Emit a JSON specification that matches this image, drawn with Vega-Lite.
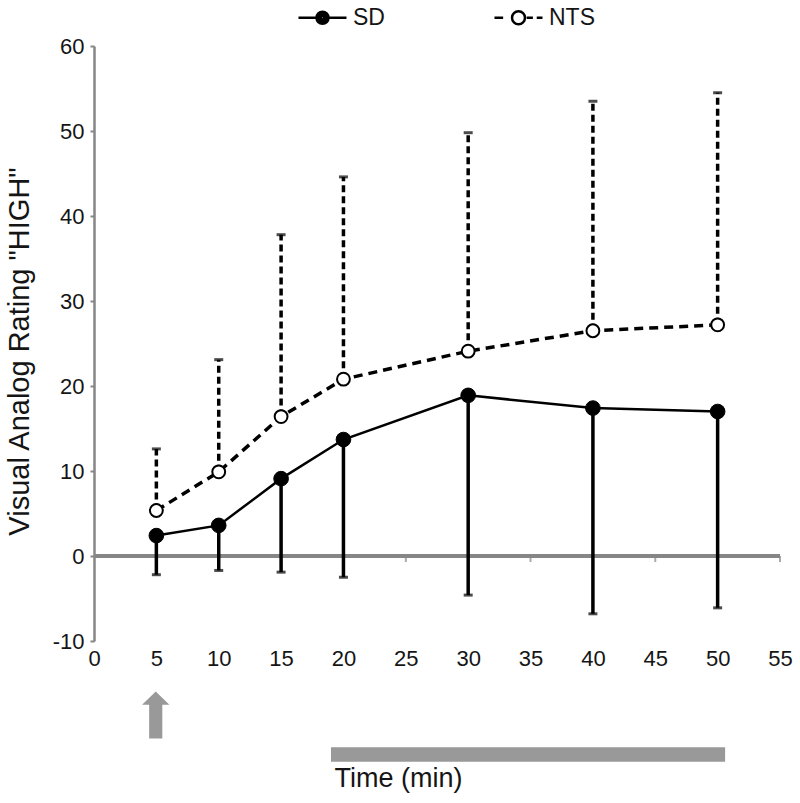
{
  "$schema": "https://vega.github.io/schema/vega-lite/v6.json",
  "width": 686,
  "height": 595,
  "autosize": "none",
  "padding": {"left": 94, "top": 46, "right": 20, "bottom": 162},
  "background": "white",
  "config": {
    "font": "Liberation Sans",
    "view": {"stroke": null},
    "axis": {"grid": false, "labelColor": "#151515", "titleColor": "#151515", "titleFontWeight": "normal"}
  },
  "datasets": {
    "pts": [
      {"time": 5, "group": "SD", "mean": 2.4, "err": -2.2},
      {"time": 10, "group": "SD", "mean": 3.6, "err": -1.7},
      {"time": 15, "group": "SD", "mean": 9.1, "err": -1.9},
      {"time": 20, "group": "SD", "mean": 13.7, "err": -2.5},
      {"time": 30, "group": "SD", "mean": 18.9, "err": -4.6},
      {"time": 40, "group": "SD", "mean": 17.4, "err": -6.8},
      {"time": 50, "group": "SD", "mean": 17.0, "err": -6.1},
      {"time": 5, "group": "NTS", "mean": 5.35, "err": 12.6},
      {"time": 10, "group": "NTS", "mean": 9.9, "err": 23.1},
      {"time": 15, "group": "NTS", "mean": 16.4, "err": 37.8},
      {"time": 20, "group": "NTS", "mean": 20.8, "err": 44.6},
      {"time": 30, "group": "NTS", "mean": 24.1, "err": 49.8},
      {"time": 40, "group": "NTS", "mean": 26.5, "err": 53.5},
      {"time": 50, "group": "NTS", "mean": 27.2, "err": 54.5}
    ],
    "ticks": [{"t": 5}, {"t": 10}, {"t": 15}, {"t": 20}, {"t": 25}, {"t": 30}, {"t": 35}, {"t": 40}, {"t": 45}, {"t": 50}, {"t": 55}],
    "bar": [{"start": 19, "end": 50.6, "top": -22.5, "bottom": -24.2}],
    "arrow": [{"time": 4.95, "y": -18.7}]
  },
  "layer": [
    {
      "data": {"name": "ticks"},
      "mark": {"type": "rule", "color": "#868686", "strokeWidth": 3},
      "encoding": {
        "x": {"datum": 0, "type": "quantitative", "scale": {"domain": [0, 55], "nice": false, "zero": false},
          "axis": {"values": [0, 5, 10, 15, 20, 25, 30, 35, 40, 45, 50, 55], "domain": false, "ticks": false, "tickSize": 0, "labelFontSize": 22, "labelPadding": 7, "labelFlush": false, "title": "Time (min)", "titleFontSize": 27, "titlePadding": 96, "titleX": 304}},
        "x2": {"datum": 55},
        "y": {"datum": 0, "type": "quantitative", "scale": {"domain": [-10, 60], "nice": false, "zero": false},
          "axis": {"values": [-10, 0, 10, 20, 30, 40, 50, 60], "labelExpr": "'' + datum.value", "domainColor": "#868686", "domainWidth": 2.5, "tickColor": "#868686", "tickWidth": 2, "tickSize": 4, "labelFontSize": 22, "labelPadding": 6, "title": "Visual Analog Rating \"HIGH\"", "titleFontSize": 29, "titlePadding": 18, "titleY": 305}}
      }
    },
    {
      "data": {"name": "ticks"},
      "mark": {"type": "tick", "orient": "vertical", "color": "#868686", "size": 6, "thickness": 2, "yOffset": 3},
      "encoding": {
        "x": {"field": "t", "type": "quantitative"},
        "y": {"datum": 0, "type": "quantitative"}
      }
    },
    {
      "data": {"name": "pts"},
      "transform": [{"filter": "datum.group === 'SD'"}],
      "mark": {"type": "rule", "color": "black", "strokeWidth": 3.5},
      "encoding": {
        "x": {"field": "time", "type": "quantitative"},
        "y": {"field": "mean", "type": "quantitative"},
        "y2": {"field": "err"}
      }
    },
    {
      "data": {"name": "pts"},
      "transform": [{"filter": "datum.group === 'SD'"}],
      "mark": {"type": "tick", "orient": "horizontal", "color": "black", "size": 9, "thickness": 3},
      "encoding": {
        "x": {"field": "time", "type": "quantitative"},
        "y": {"field": "err", "type": "quantitative"}
      }
    },
    {
      "data": {"name": "pts"},
      "transform": [{"filter": "datum.group === 'NTS'"}],
      "mark": {"type": "rule", "color": "black", "strokeWidth": 3.5, "strokeDash": [7, 4]},
      "encoding": {
        "x": {"field": "time", "type": "quantitative"},
        "y": {"field": "mean", "type": "quantitative"},
        "y2": {"field": "err"}
      }
    },
    {
      "data": {"name": "pts"},
      "transform": [{"filter": "datum.group === 'NTS'"}],
      "mark": {"type": "tick", "orient": "horizontal", "color": "black", "size": 9, "thickness": 3},
      "encoding": {
        "x": {"field": "time", "type": "quantitative"},
        "y": {"field": "err", "type": "quantitative"}
      }
    },
    {
      "data": {"name": "pts"},
      "transform": [{"filter": "datum.group === 'SD'"}],
      "mark": {"type": "line", "color": "black", "strokeWidth": 2.5},
      "encoding": {
        "x": {"field": "time", "type": "quantitative"},
        "y": {"field": "mean", "type": "quantitative"}
      }
    },
    {
      "data": {"name": "pts"},
      "transform": [{"filter": "datum.group === 'NTS'"}],
      "mark": {"type": "line", "color": "black", "strokeWidth": 3.5, "strokeDash": [9, 6]},
      "encoding": {
        "x": {"field": "time", "type": "quantitative"},
        "y": {"field": "mean", "type": "quantitative"}
      }
    },
    {
      "data": {"name": "pts"},
      "transform": [{"filter": "datum.group === 'SD'"}],
      "mark": {"type": "point", "shape": "circle", "filled": true, "fill": "black", "stroke": "black", "strokeWidth": 1, "size": 215, "opacity": 1},
      "encoding": {
        "x": {"field": "time", "type": "quantitative"},
        "y": {"field": "mean", "type": "quantitative"}
      }
    },
    {
      "data": {"name": "pts"},
      "transform": [{"filter": "datum.group === 'NTS'"}],
      "mark": {"type": "point", "shape": "circle", "filled": false, "fill": "white", "fillOpacity": 1, "stroke": "black", "strokeWidth": 2, "size": 165, "opacity": 1},
      "encoding": {
        "x": {"field": "time", "type": "quantitative"},
        "y": {"field": "mean", "type": "quantitative"}
      }
    },
    {
      "data": {"name": "bar"},
      "mark": {"type": "rect", "color": "#999999"},
      "encoding": {
        "x": {"field": "start", "type": "quantitative"},
        "x2": {"field": "end"},
        "y": {"field": "top", "type": "quantitative"},
        "y2": {"field": "bottom"}
      }
    },
    {
      "data": {"name": "arrow"},
      "mark": {"type": "point", "shape": "M0,-1L0.58,-0.43L0.28,-0.43L0.28,1L-0.28,1L-0.28,-0.43L-0.58,-0.43Z", "filled": true, "color": "#999999", "size": 2209, "opacity": 1},
      "encoding": {
        "x": {"field": "time", "type": "quantitative"},
        "y": {"field": "y", "type": "quantitative"}
      }
    },
    {
      "data": {"name": "pts"},
      "transform": [{"filter": "false"}],
      "mark": {"type": "point", "filled": false, "strokeWidth": 2.5, "opacity": 1},
      "encoding": {
        "x": {"field": "time", "type": "quantitative"},
        "y": {"field": "mean", "type": "quantitative"},
        "color": {"field": "group", "type": "nominal", "scale": {"domain": ["SD", "NTS"], "range": ["black", "black"]},
          "legend": {"title": null, "orient": "none", "legendX": 203, "legendY": -54, "direction": "horizontal", "symbolSize": 2304, "symbolStrokeWidth": 2.5, "labelFontSize": 23, "labelOffset": 5, "columnPadding": 104, "labelColor": "#151515"}},
        "shape": {"field": "group", "type": "nominal",
          "scale": {"domain": ["SD", "NTS"], "range": [
            "M-1,0L-0.25,0M0.25,0L1,0M0.25,0A0.25,0.25,0,1,1,-0.25,0A0.25,0.25,0,1,1,0.25,0M0.16,0A0.16,0.16,0,1,1,-0.16,0A0.16,0.16,0,1,1,0.16,0M0.07,0A0.07,0.07,0,1,1,-0.07,0A0.07,0.07,0,1,1,0.07,0M0.02,0A0.02,0.02,0,1,1,-0.02,0A0.02,0.02,0,1,1,0.02,0",
            "M-1,0L-0.64,0M0.34,0L0.6,0M0.76,0L1,0M0.27,0A0.27,0.27,0,1,1,-0.27,0A0.27,0.27,0,1,1,0.27,0"
          ]},
          "legend": {"title": null, "orient": "none", "legendX": 203, "legendY": -54, "direction": "horizontal", "symbolSize": 2304, "symbolStrokeWidth": 2.5, "labelFontSize": 23, "labelOffset": 5, "columnPadding": 104, "labelColor": "#151515"}}
      }
    }
  ]
}
